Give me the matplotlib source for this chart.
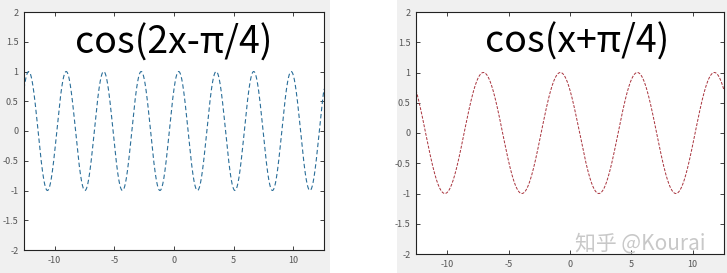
import numpy as np
import matplotlib
matplotlib.use("Agg")
from matplotlib import pyplot as plt
from matplotlib.patches import Rectangle
from matplotlib.ticker import FuncFormatter

plt.rcParams['font.family'] = ['Noto Sans CJK SC', 'DejaVu Sans']

# the two curves: y = cos(k*x + phase), x over [-4pi, 4pi]
x_min, x_max = -4 * np.pi, 4 * np.pi
n_points = 2000
left_freq, left_phase = 2, -np.pi / 4
right_freq, right_phase = 1, np.pi / 4
left_title = "cos(2x-\u03c0/4)"
right_title = "cos(x+\u03c0/4)"
x_ticks = [-10, -5, 0, 5, 10]
y_ticks = [-2, -1.5, -1, -0.5, 0, 0.5, 1, 1.5, 2]
watermark = "知乎 @Kourai"

x = np.linspace(x_min, x_max, n_points)
y_left = np.cos(left_freq * x + left_phase)
y_right = np.cos(right_freq * x + right_phase)

W, H = 727, 273
fig = plt.figure(figsize=(W / 100, H / 100), dpi=100, facecolor='white')

# grey window backgrounds of the two stitched screenshots
fig.patches.append(Rectangle((0, 0), 330 / W, 1, transform=fig.transFigure,
                             facecolor='#f0f0f0', edgecolor='none', zorder=-1))
fig.patches.append(Rectangle((397 / W, 0), 1 - 397 / W, 1, transform=fig.transFigure,
                             facecolor='#f0f0f0', edgecolor='none', zorder=-1))

ax1 = fig.add_axes([24 / W, (H - 250) / H, 300 / W, 238 / H])
ax2 = fig.add_axes([416 / W, (H - 254) / H, 308 / W, 242 / H])

fmt = FuncFormatter(lambda v, p: ("%g" % v).replace("\u2212", "-"))

for ax in (ax1, ax2):
    ax.set_facecolor('white')
    ax.set_xlim(x_min, x_max)
    ax.set_ylim(-2, 2)
    ax.set_xticks(x_ticks)
    ax.set_yticks(y_ticks)
    ax.xaxis.set_major_formatter(fmt)
    ax.yaxis.set_major_formatter(fmt)
    ax.tick_params(direction='in', length=3, width=0.6, top=True, right=True,
                   labelsize=6.5, labelcolor='#555555', color='#222222', pad=4)
    for s in ax.spines.values():
        s.set_linewidth(0.8)
        s.set_color('#222222')

ax1.plot(x, y_left, color='#2a6e99', linestyle=(0, (4, 2.5)), linewidth=0.8)
ax2.plot(x, y_right, color='#a8323c', linestyle=(0, (3, 1.5)), linewidth=0.7)

ax1.text(0, 1.48, left_title, ha='center', va='center', fontsize=27, color='black')
ax2.text(0.6, 1.5, right_title, ha='center', va='center', fontsize=27, color='black')

fig.text(640 / W, 1 - 243 / H, watermark, ha='center', va='center',
         fontsize=15, color='#c8c8c8')

fig.savefig("out.png", dpi=100, facecolor=fig.get_facecolor())
